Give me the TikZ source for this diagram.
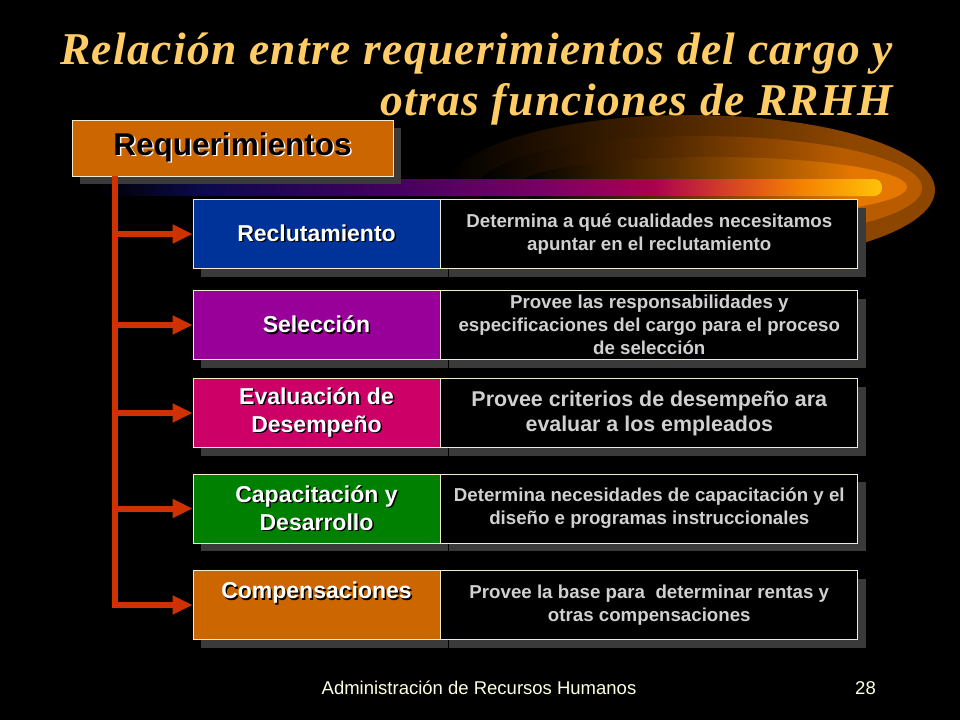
\documentclass[tikz,border=0pt]{standalone}
\usepackage{fontspec}
\setmainfont{Liberation Sans}
\newfontfamily\titlefont[LetterSpace=3]{Liberation Serif}
\usetikzlibrary{positioning,shadows,arrows.meta,calc}

\definecolor{titlegold}{RGB}{255,204,102}
\definecolor{edgecream}{RGB}{240,236,205}
\definecolor{shadowgray}{RGB}{58,58,58}
\definecolor{linkred}{RGB}{204,51,0}
\definecolor{infogray}{RGB}{208,208,208}
\definecolor{footwhite}{RGB}{255,255,225}
\definecolor{reqorange}{RGB}{204,102,0}
\definecolor{recblue}{RGB}{0,51,153}
\definecolor{selpurple}{RGB}{153,0,153}
\definecolor{evalpink}{RGB}{204,0,102}
\definecolor{capgreen}{RGB}{0,128,0}
\definecolor{swnavy}{RGB}{10,10,75}
\definecolor{swpurple}{RGB}{70,0,95}
\definecolor{swplum}{RGB}{125,0,100}
\definecolor{swmagenta}{RGB}{170,0,80}
\definecolor{swred}{RGB}{210,60,40}
\definecolor{sworange}{RGB}{245,130,0}
\definecolor{swyellow}{RGB}{255,195,10}
\definecolor{glowdark}{RGB}{140,70,0}
\definecolor{glowmid}{RGB}{185,92,0}
\definecolor{glowlight}{RGB}{228,120,0}

\pgfdeclarehorizontalshading{swoosh}{100bp}{color(0bp)=(black); color(25bp)=(black);
  color(31.7bp)=(swnavy); color(44.4bp)=(swpurple); color(54bp)=(swplum);
  color(60.4bp)=(swmagenta); color(64.8bp)=(swred); color(69.9bp)=(sworange);
  color(75bp)=(swyellow); color(100bp)=(swyellow)}
\pgfdeclarehorizontalshading{glowA}{100bp}{color(0bp)=(black); color(25bp)=(black);
  color(45bp)=(glowdark!45!black); color(66bp)=(glowdark); color(100bp)=(glowdark)}
\pgfdeclarehorizontalshading{glowB}{100bp}{color(0bp)=(black); color(25bp)=(black);
  color(45bp)=(glowmid!40!black); color(66bp)=(glowmid); color(100bp)=(glowmid)}
\pgfdeclarehorizontalshading{glowC}{100bp}{color(0bp)=(black); color(25bp)=(black);
  color(45bp)=(glowlight!40!black); color(68bp)=(glowlight); color(100bp)=(glowlight)}

% label with a small offset shadow
\newcommand\shd[2][black]{\makebox[0pt][l]{\hspace{1.5pt}\raisebox{-1.5pt}{\color{#1}#2}}#2}

\tikzset{
  boxshadow/.style={drop shadow={shadow xshift=8pt,shadow yshift=-8pt,fill=shadowgray,opacity=1}},
  title/.style={text=titlegold,inner sep=0pt,font=\titlefont\bfseries\itshape\fontsize{45.5}{51}\selectfont},
  topic/.style={draw=edgecream,line width=0.8pt,minimum width=247pt,minimum height=69pt,inner sep=2pt,
    align=center,text=white,font=\fontsize{23}{28}\selectfont\bfseries,boxshadow},
  info/.style={draw=edgecream,fill=black,line width=0.8pt,minimum width=417pt,minimum height=69pt,inner sep=2pt,
    align=center,text=infogray,font=\fontsize{18.7}{23}\selectfont\bfseries,boxshadow},
  link/.style={draw=linkred,line width=6pt,-{Triangle[length=20pt,width=18pt]}},
  foot/.style={text=footwhite,inner sep=0pt,font=\fontsize{18.5}{22}\selectfont},
}

\begin{document}
\begin{tikzpicture}[x=1pt,y=-1pt]
\fill[black] (0,0) rectangle (960,720);
\useasboundingbox (0,0) rectangle (960,720);

% background swoosh
\shade[shading=glowA] (690,190) ellipse [x radius=245,y radius=75];
\shade[shading=glowB] (700,188) ellipse [x radius=222,y radius=52];
\shade[shading=glowC] (712,187) ellipse [x radius=195,y radius=30];
\shade[shading=swoosh,rounded corners=8pt] (95,179) rectangle (882,196);

\node[title,anchor=base east] (title) at (893,64) {Relación entre requerimientos del cargo y};
\node[title,anchor=base east] (title2) at (893,115) {otras funciones de RRHH};

\node[topic,fill=reqorange,minimum width=321pt,minimum height=56pt,text=black,
  font=\fontsize{31.5}{36}\selectfont\bfseries] (req) at (232.5,148) {\shd[white]{Requerimientos}};

\node[topic,fill=recblue] (rec) at (316.5,234) {\shd{Reclutamiento}};
\node[info,right=0pt of rec] (recinfo) {Determina a qué cualidades necesitamos\\apuntar en el reclutamiento};

\node[topic,fill=selpurple] (sel) at (316.5,325) {\shd{Selección}};
\node[info,right=0pt of sel] (selinfo) {Provee las responsabilidades y\\especificaciones del cargo para el proceso\\de selección};

\node[topic,fill=evalpink] (eval) at (316.5,413) {\shd{Evaluación de}\\\shd{Desempeño}};
\node[info,right=0pt of eval,font=\fontsize{21.4}{25}\selectfont\bfseries] (evalinfo) {Provee criterios de desempeño ara\\evaluar a los empleados};

\node[topic,fill=capgreen] (cap) at (316.5,508.5) {\shd{Capacitación y}\\\shd{Desarrollo}};
\node[info,right=0pt of cap] (capinfo) {Determina necesidades de capacitación y el\\diseño e programas instruccionales};

\node[topic,fill=reqorange,text height=17pt,text depth=30pt] (comp) at (316.5,605) {\shd{Compensaciones}};
\node[info,right=0pt of comp] (compinfo) {Provee la base para \ determinar rentas y\\otras compensaciones};

% connectors
\coordinate (trunk) at ($(req.south west)+(43,0)$);
\draw[link] (trunk) -- (trunk |- comp.west) -- (comp.west);
\foreach \n in {rec,sel,eval,cap}
  \draw[link] (trunk |- \n.west) -- (\n.west);

\node[foot,anchor=base] (foot) at (479,694) {Administración de Recursos Humanos};
\node[foot,anchor=base east] (page) at (876,694) {28};
\end{tikzpicture}
\end{document}
